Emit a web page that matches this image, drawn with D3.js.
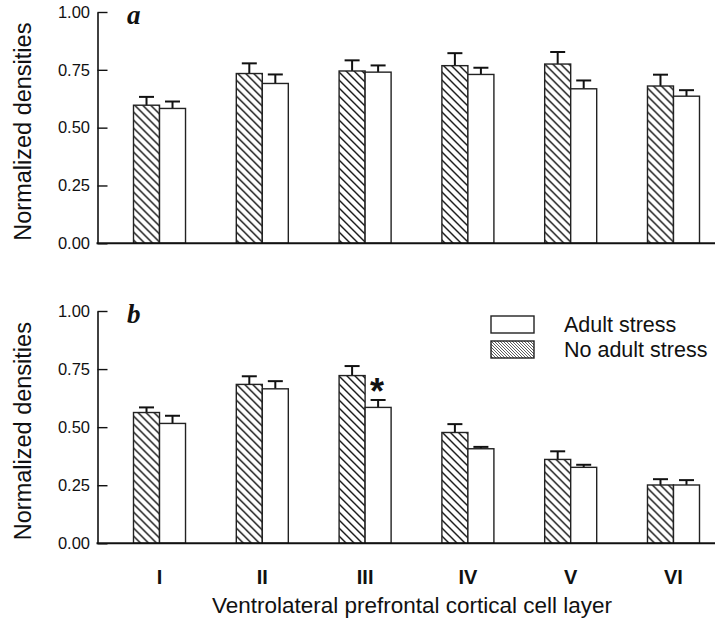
<!DOCTYPE html>
<html>
<head>
<meta charset="utf-8">
<script src="https://cdn.jsdelivr.net/npm/d3@7"></script>
<style>
  body { margin: 0; background: #fff; }
  svg { display: block; font-family: "Liberation Sans", Arial, sans-serif; }
</style>
</head>
<body>
<div id="chart"></div>
<script>
const layers = ['I', 'II', 'III', 'IV', 'V', 'VI'];
const series = ['No adult stress', 'Adult stress'];
const yTicks = [0, 0.25, 0.5, 0.75, 1];

// panel a
const aNoStress = [0.597, 0.734, 0.745, 0.768, 0.775, 0.680];
const aNoStressErr = [0.036, 0.044, 0.046, 0.054, 0.052, 0.049];
const aStress = [0.583, 0.691, 0.740, 0.730, 0.668, 0.636];
const aStressErr = [0.030, 0.039, 0.029, 0.029, 0.036, 0.026];

// panel b
const bNoStress = [0.563, 0.684, 0.722, 0.477, 0.361, 0.251];
const bNoStressErr = [0.022, 0.035, 0.041, 0.036, 0.035, 0.025];
const bStress = [0.516, 0.665, 0.585, 0.407, 0.327, 0.251];
const bStressErr = [0.033, 0.033, 0.032, 0.008, 0.011, 0.021];

const width = 722, height = 627;
const axisLeftX = 97.5, axisRightX = 715;

const svg = d3.select('#chart').append('svg')
  .attr('width', width)
  .attr('height', height);

const defs = svg.append('defs');
defs.append('pattern')
  .attr('id', 'hatch')
  .attr('patternUnits', 'userSpaceOnUse')
  .attr('width', 8).attr('height', 8)
  .append('path')
  .attr('d', 'M0,0L8,8M-2,6L2,10M6,-2L10,2')
  .attr('stroke', '#111').attr('stroke-width', 1.4);

defs.append('pattern')
  .attr('id', 'hatchFine')
  .attr('patternUnits', 'userSpaceOnUse')
  .attr('width', 3).attr('height', 3)
  .append('path')
  .attr('d', 'M0,0L3,3M-1,2L1,4M2,-1L4,1')
  .attr('stroke', '#333').attr('stroke-width', 0.8);

const xGroup = d3.scaleBand()
  .domain(layers)
  .range([107.5, 725.5])
  .paddingInner(0.494)
  .paddingOuter(0.253);

const xInner = d3.scaleBand()
  .domain(series)
  .range([0, xGroup.bandwidth()]);

const fills = { 'No adult stress': 'url(#hatch)', 'Adult stress': '#fff' };

function drawPanel(top, bottom, label, noStress, noStressErr, stress, stressErr) {
  const y = d3.scaleLinear().domain([0, 1]).range([bottom, top]);
  const g = svg.append('g');

  const rows = layers.map((layer, i) => [
    { layer, key: 'No adult stress', value: noStress[i], err: noStressErr[i] },
    { layer, key: 'Adult stress', value: stress[i], err: stressErr[i] }
  ]).flat();

  const bar = g.selectAll('.bar')
    .data(rows)
    .join('g')
    .attr('class', 'bar')
    .attr('transform', d => `translate(${xGroup(d.layer) + xInner(d.key)},0)`);

  // error bars (upper only)
  bar.append('line')
    .attr('x1', xInner.bandwidth() / 2).attr('x2', xInner.bandwidth() / 2)
    .attr('y1', d => y(d.value)).attr('y2', d => y(d.value + d.err))
    .attr('stroke', '#111').attr('stroke-width', 2);
  bar.append('line')
    .attr('x1', xInner.bandwidth() / 2 - 7.5).attr('x2', xInner.bandwidth() / 2 + 7.5)
    .attr('y1', d => y(d.value + d.err)).attr('y2', d => y(d.value + d.err))
    .attr('stroke', '#111').attr('stroke-width', 2);

  bar.append('rect')
    .attr('x', 0)
    .attr('width', xInner.bandwidth())
    .attr('y', d => y(d.value))
    .attr('height', d => y(0) - y(d.value))
    .attr('fill', d => fills[d.key])
    .attr('stroke', '#222')
    .attr('stroke-width', 1.4);

  const yAxis = d3.axisLeft(y)
    .tickValues(yTicks)
    .tickFormat(d3.format('.2f'))
    .tickSize(-10)
    .tickSizeOuter(0)
    .tickPadding(7.5);

  const ax = g.append('g')
    .attr('transform', `translate(${axisLeftX},0)`)
    .call(yAxis);
  ax.select('.domain').attr('stroke', '#111').attr('stroke-width', 1.6);
  ax.selectAll('.tick line').attr('stroke', '#111').attr('stroke-width', 1.4);
  ax.selectAll('.tick text')
    .attr('font-size', 16.5)
    .attr('font-family', '"Liberation Sans", Arial, sans-serif')
    .attr('fill', '#111');

  g.append('line')
    .attr('x1', axisLeftX - 1).attr('x2', axisRightX)
    .attr('y1', y(0)).attr('y2', y(0))
    .attr('stroke', '#111').attr('stroke-width', 2);

  g.append('text')
    .attr('transform', `translate(31,${(top + bottom) / 2 + 4}) rotate(-90)`)
    .attr('text-anchor', 'middle')
    .attr('font-size', 23.5)
    .attr('fill', '#111')
    .text('Normalized densities');

  g.append('text')
    .attr('x', 127)
    .attr('y', top + 12)
    .attr('font-family', '"Liberation Serif", "Times New Roman", serif')
    .attr('font-weight', 'bold')
    .attr('font-style', 'italic')
    .attr('font-size', 27)
    .attr('fill', '#111')
    .text(label);

  return y;
}

drawPanel(12, 243.3, 'a', aNoStress, aNoStressErr, aStress, aStressErr);
const yb = drawPanel(311, 543.3, 'b', bNoStress, bNoStressErr, bStress, bStressErr);

// significance marker on layer III, adult stress
const starIdx = 2;
svg.append('text')
  .attr('x', xGroup(layers[starIdx]) + xInner('Adult stress') + xInner.bandwidth() / 2 - 1)
  .attr('y', yb(bStress[starIdx] + bStressErr[starIdx]) + 4)
  .attr('text-anchor', 'middle')
  .attr('font-size', 36)
  .attr('font-weight', 'bold')
  .attr('fill', '#111')
  .text('*');

// legend
const legendItems = [
  { key: 'Adult stress', y: 316 },
  { key: 'No adult stress', y: 341 }
];
const legend = svg.append('g');
legend.selectAll('rect')
  .data(legendItems)
  .join('rect')
  .attr('x', 491).attr('y', d => d.y)
  .attr('width', 43).attr('height', 17)
  .attr('fill', d => d.key === 'Adult stress' ? '#fff' : 'url(#hatchFine)')
  .attr('stroke', '#222').attr('stroke-width', 1.4);
legend.selectAll('text')
  .data(legendItems)
  .join('text')
  .attr('x', 564).attr('y', d => d.y + 16)
  .attr('font-size', 21.5)
  .attr('fill', '#111')
  .text(d => d.key);

// category labels
svg.append('g')
  .selectAll('text')
  .data(layers)
  .join('text')
  .attr('x', d => xGroup(d) + xGroup.bandwidth() / 2)
  .attr('y', 584)
  .attr('text-anchor', 'middle')
  .attr('font-size', 20)
  .attr('font-weight', 'bold')
  .attr('fill', '#111')
  .text(d => d);

svg.append('text')
  .attr('x', 412)
  .attr('y', 613)
  .attr('text-anchor', 'middle')
  .attr('font-size', 22.5)
  .attr('fill', '#111')
  .text('Ventrolateral prefrontal cortical cell layer');
</script>
</body>
</html>
